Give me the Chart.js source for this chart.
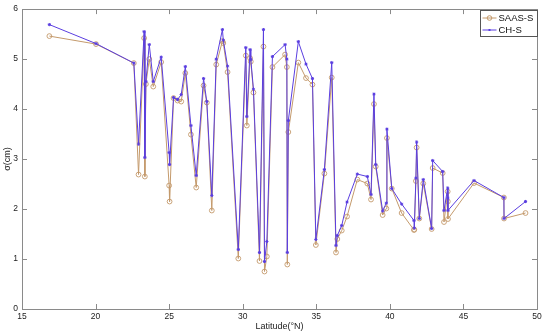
<!DOCTYPE html>
<html>
<head>
<meta charset="utf-8">
<script src="https://cdn.jsdelivr.net/npm/chart.js@4/dist/chart.umd.min.js"></script>
<style>
html,body{margin:0;padding:0;background:#fff;}
#wrap{width:550px;height:333px;position:relative;}
</style>
</head>
<body>
<div id="wrap"><canvas id="c"></canvas></div>
<script>
// latitude (°N) of each station
const lat=[16.86,20.03,22.60,22.92,23.30,23.35,23.42,23.65,23.92,24.46,
  25.00,25.03,25.30,25.57,25.82,26.10,26.48,26.84,27.34,27.56,
  27.90,28.20,28.62,28.68,28.97,29.70,30.21,30.28,30.50,30.55,
  30.73,31.14,31.41,31.48,31.64,32.02,32.88,33.00,33.03,33.10,
  33.78,34.30,34.74,34.97,35.55,36.05,36.34,36.43,36.73,37.09,
  37.79,38.47,38.72,38.92,39.04,39.51,39.76,39.80,40.13,40.80,
  41.64,41.66,41.77,41.82,42.00,42.27,42.84,42.91,43.59,43.68,
  43.93,43.94,43.95,45.72,47.75,47.76,49.22];
const saas=[5.46,5.30,4.92,2.69,5.42,2.65,4.50,5.00,4.45,4.94,
  2.47,2.15,4.22,4.17,4.15,4.72,3.49,2.43,4.47,4.13,
  1.97,4.89,5.36,5.32,4.74,1.01,5.07,3.67,5.02,4.95,
  4.33,0.96,5.25,0.75,1.05,4.84,5.09,4.84,0.89,3.54,
  4.93,4.62,4.49,1.28,2.71,4.63,1.13,1.40,1.57,1.85,
  2.59,2.51,2.19,4.10,2.85,1.88,2.01,3.42,2.41,1.92,
  1.58,1.59,2.56,3.23,1.81,2.51,1.60,2.82,2.72,1.74,
  2.35,2.15,1.80,2.52,2.23,1.81,1.92];
const chs=[5.69,5.31,4.92,3.30,5.55,3.03,4.55,5.29,4.55,5.04,
  3.13,2.89,4.23,4.19,4.29,4.85,3.67,2.67,4.61,4.15,
  2.27,5.00,5.59,5.38,4.86,1.19,5.23,3.85,5.19,4.99,
  4.40,1.13,5.59,0.95,1.35,5.05,5.29,5.00,1.13,3.77,
  5.35,4.90,4.61,1.39,2.79,4.93,1.27,1.47,1.67,2.14,
  2.70,2.65,2.29,4.30,2.89,1.96,2.12,3.60,2.41,2.10,
  1.77,1.62,2.62,3.34,1.81,2.59,1.61,2.97,2.75,1.97,
  2.42,2.22,1.97,2.57,2.23,1.81,2.15];
const xTicks=[15,20,25,30,35,40,45,50];
const yTicks=[0,1,2,3,4,5,6];
const names=['SAAS-S','CH-S'];
const colSaas='#c49a6c';
const colCh='#5a3ee0';
const font="'Liberation Sans', Arial, Helvetica, sans-serif";

const pts=(ys)=>lat.map((x,i)=>({x:x,y:ys[i]}));

const frame={
  id:'frame',
  afterDraw(chart){
    const {ctx,chartArea:a,scales:{x,y}}=chart;
    ctx.save();
    ctx.strokeStyle='#8a8a8a';
    ctx.lineWidth=1;
    ctx.strokeRect(Math.round(a.left)+0.5,Math.round(a.top)+0.5,Math.round(a.right-a.left),Math.round(a.bottom-a.top));
    ctx.beginPath();
    xTicks.forEach(v=>{
      const px=Math.round(x.getPixelForValue(v))+0.5;
      ctx.moveTo(px,a.bottom);ctx.lineTo(px,a.bottom-5);
      ctx.moveTo(px,a.top);ctx.lineTo(px,a.top+5);
    });
    yTicks.forEach(v=>{
      const py=Math.round(y.getPixelForValue(v))+0.5;
      ctx.moveTo(a.left,py);ctx.lineTo(a.left+5,py);
      ctx.moveTo(a.right,py);ctx.lineTo(a.right-5,py);
    });
    ctx.stroke();
    // legend box
    const bw=57,bh=26;
    const bx=Math.round(a.right)-bw+0.5,by=Math.round(a.top)+1.5;
    ctx.fillStyle='#fff';
    ctx.fillRect(bx,by,bw,bh);
    ctx.strokeStyle='#555';
    ctx.strokeRect(bx,by,bw,bh);
    ctx.font='9.5px '+font;
    ctx.textBaseline='middle';
    [[colSaas,names[0],by+7.5,'c'],[colCh,names[1],by+19.5,'s']].forEach(([c,t,ly,m])=>{
      ctx.strokeStyle=c;
      ctx.beginPath();ctx.moveTo(bx+2,ly);ctx.lineTo(bx+16,ly);ctx.stroke();
      ctx.beginPath();
      if(m==='c'){ctx.arc(bx+9,ly,2.3,0,Math.PI*2);ctx.stroke();}
      else{ctx.fillStyle=c;ctx.fillRect(bx+8,ly-1,2,2);}
      ctx.fillStyle='#111';
      ctx.fillText(t,bx+18,ly+0.5);
    });
    ctx.restore();
  }
};

new Chart(document.getElementById('c'),{
  type:'line',
  data:{datasets:[
    {label:names[0],data:pts(saas),borderColor:colSaas,borderWidth:1,
     pointStyle:'circle',pointRadius:2.4,pointBorderWidth:0.9,
     pointBorderColor:colSaas,pointBackgroundColor:'rgba(0,0,0,0)',order:1},
    {label:names[1],data:pts(chs),borderColor:colCh,borderWidth:1,
     pointStyle:'star',pointRadius:1.6,pointBorderWidth:1,
     pointBorderColor:colCh,pointBackgroundColor:colCh,order:0}
  ]},
  options:{
    responsive:true,maintainAspectRatio:false,animation:false,
    layout:{padding:{top:9,right:13,left:0,bottom:0}},
    plugins:{legend:{display:false},tooltip:{enabled:false}},
    scales:{
      x:{type:'linear',min:15,max:50,
        afterBuildTicks:s=>{s.ticks=xTicks.map(v=>({value:v}));},
        afterFit:s=>{s.height=24;},
        grid:{display:false,drawTicks:false},border:{display:false},
        ticks:{color:'#222',font:{family:font,size:8.5},padding:3,maxRotation:0},
        title:{display:true,text:'Latitude(°N)',color:'#222',font:{family:font,size:9},padding:{top:0,bottom:1}}
      },
      y:{min:0,max:6,
        afterBuildTicks:s=>{s.ticks=yTicks.map(v=>({value:v}));},
        afterFit:s=>{s.width=22;},
        grid:{display:false,drawTicks:false},border:{display:false},
        ticks:{color:'#222',font:{family:font,size:8.5},padding:4},
        title:{display:true,text:'σ(cm)',color:'#222',font:{family:font,size:9},padding:{top:2,bottom:0}}
      }
    }
  },
  plugins:[frame]
});
</script>
</body>
</html>
